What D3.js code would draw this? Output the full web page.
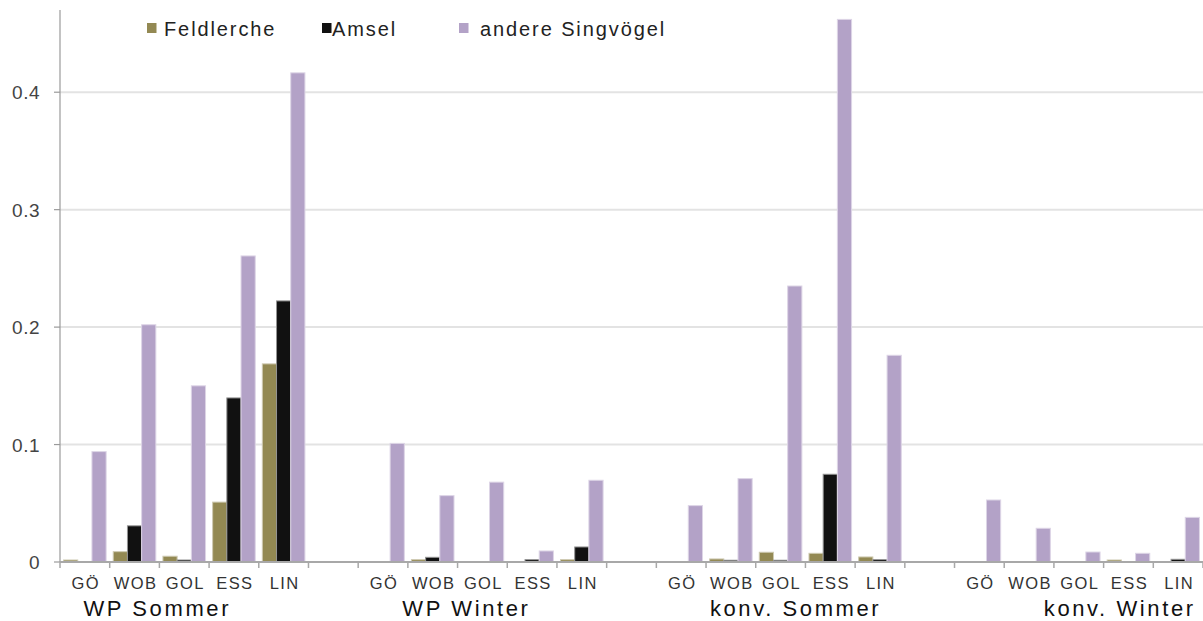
<!DOCTYPE html>
<html>
<head>
<meta charset="utf-8">
<script src="https://cdn.jsdelivr.net/npm/d3@7"></script>
<style>
  html, body { margin: 0; padding: 0; background: #fff; }
  svg { display: block; font-family: "Liberation Sans", Arial, sans-serif; }
</style>
</head>
<body>
<svg id="chart" width="1203" height="621"></svg>
<script>
// ---- data ----
const groups = ["WP Sommer", "WP Winter", "konv. Sommer", "konv. Winter"];
const sites = ["GÖ", "WOB", "GOL", "ESS", "LIN"];
const seriesNames = ["Feldlerche", "Amsel", "andere Singvögel"];
const feldlerche = [0.0017, 0.0088, 0.0049, 0.051, 0.1687,
                    0, 0.002, 0, 0, 0.002,
                    0, 0.0026, 0.0083, 0.0074, 0.0043,
                    0, 0, 0, 0.0017, 0];
const amsel = [0, 0.0308, 0.0017, 0.1397, 0.2223,
               0, 0.004, 0, 0.002, 0.0128,
               0, 0.0015, 0.0015, 0.0747, 0.002,
               0, 0, 0, 0, 0.0023];
const andere = [0.094, 0.202, 0.150, 0.2606, 0.4165,
                0.101, 0.0565, 0.068, 0.0094, 0.0696,
                0.048, 0.071, 0.235, 0.462, 0.176,
                0.0528, 0.0287, 0.0085, 0.0074, 0.038];
const yTicks = [0, 0.1, 0.2, 0.3, 0.4];
const yTickLabels = ["0", "0.1", "0.2", "0.3", "0.4"];

// ---- styles ----
const colors = { "Feldlerche": "#938953", "Amsel": "#111111", "andere Singvögel": "#b3a2c7" };
const seriesValues = [feldlerche, amsel, andere];

const svg = d3.select("#chart");
const W = 1203, H = 621;
const plot = { left: 60, right: 1203, top: 10, bottom: 562 };

// categories: 5 sites per group + one blank slot between groups
const catKeys = [];
groups.forEach((g, gi) => {
  sites.forEach(s => catKeys.push(g + "|" + s));
  if (gi < groups.length - 1) catKeys.push("gap" + gi);
});

const x = d3.scaleBand().domain(catKeys).range([plot.left, plot.right]).padding(0);
const bw = x.bandwidth();
const xs = d3.scaleBand().domain(seriesNames)
  .range([bw * 0.25 / 3.5, bw - bw * 0.25 / 3.5]).padding(0);
const y = d3.scaleLinear().domain([0, 0.47]).range([plot.bottom, plot.top]);

// gridlines
svg.append("g").selectAll("line").data(yTicks.filter(d => d > 0)).join("line")
  .attr("x1", plot.left).attr("x2", plot.right)
  .attr("y1", d => y(d)).attr("y2", d => y(d))
  .attr("stroke", "#e3e3e3").attr("stroke-width", 2);

// bars
const records = [];
groups.forEach((g, gi) => sites.forEach((s, si) => {
  seriesNames.forEach((n, ni) => {
    records.push({ key: g + "|" + s, series: n, value: seriesValues[ni][gi * 5 + si] });
  });
}));
svg.append("g").selectAll("rect").data(records.filter(d => d.value > 0)).join("rect")
  .attr("x", d => x(d.key) + xs(d.series))
  .attr("width", xs.bandwidth())
  .attr("y", d => y(d.value))
  .attr("height", d => Math.max(0.8, y(0) - y(d.value)))
  .attr("fill", d => colors[d.series])
  .attr("stroke", d => d3.interpolateRgb(colors[d.series], "#ffffff")(0.55))
  .attr("stroke-width", 1);

// y axis
const yAxis = svg.append("g");
yAxis.append("line").attr("x1", plot.left).attr("x2", plot.left)
  .attr("y1", plot.top).attr("y2", plot.bottom)
  .attr("stroke", "#9a9a9a").attr("stroke-width", 1.2);
yAxis.selectAll("line.tick").data(yTicks).join("line").attr("class", "tick")
  .attr("x1", plot.left - 6).attr("x2", plot.left)
  .attr("y1", d => y(d)).attr("y2", d => y(d))
  .attr("stroke", "#9a9a9a").attr("stroke-width", 1.2);
yAxis.selectAll("text").data(yTicks).join("text")
  .attr("x", plot.left - 20).attr("y", d => y(d) + 7)
  .attr("text-anchor", "end")
  .attr("font-size", 19).attr("letter-spacing", 0.5)
  .attr("fill", "#444")
  .text((d, i) => yTickLabels[i]);

// x axis
const xAxis = svg.append("g");
xAxis.append("line").attr("x1", plot.left).attr("x2", plot.right)
  .attr("y1", plot.bottom).attr("y2", plot.bottom)
  .attr("stroke", "#a8a8a8").attr("stroke-width", 2);
const boundaries = catKeys.map(k => x(k)).concat([plot.right]);
xAxis.selectAll("line.tick").data(boundaries).join("line").attr("class", "tick")
  .attr("x1", d => d).attr("x2", d => d)
  .attr("y1", plot.bottom).attr("y2", plot.bottom + 6)
  .attr("stroke", "#a8a8a8").attr("stroke-width", 1.5);
xAxis.selectAll("text.cat").data(catKeys.filter(k => !k.startsWith("gap"))).join("text")
  .attr("class", "cat")
  .attr("x", d => x(d) + bw / 2 + 1).attr("y", 589)
  .attr("text-anchor", "middle")
  .attr("font-size", 16.5).attr("letter-spacing", 1.4)
  .attr("fill", "#333")
  .text(d => d.split("|")[1]);

// group labels
const groupOffsets = [-27, -16, 15, 41];
xAxis.selectAll("text.grp").data(groups).join("text")
  .attr("class", "grp")
  .attr("x", (g, gi) => x(g + "|" + sites[2]) + bw / 2 + groupOffsets[gi])
  .attr("y", 616)
  .attr("text-anchor", "middle")
  .attr("font-size", 22).attr("letter-spacing", 2.6)
  .attr("fill", "#111")
  .text(d => d);

// legend
const legendSquareX = [147, 322, 459];
const legendTextX = [164, 332, 480];
const legend = svg.append("g");
seriesNames.forEach((n, i) => {
  legend.append("rect").attr("x", legendSquareX[i]).attr("y", 23)
    .attr("width", 9.5).attr("height", 10).attr("fill", colors[n]);
  legend.append("text").attr("x", legendTextX[i]).attr("y", 36)
    .attr("font-size", 20).attr("letter-spacing", 1.9)
    .attr("fill", "#222").text(n);
});
</script>
</body>
</html>
